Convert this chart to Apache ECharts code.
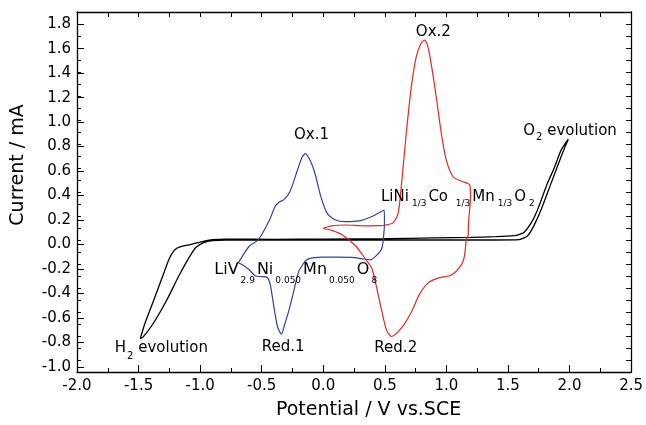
<!DOCTYPE html>
<html>
<head>
<meta charset="utf-8">
<script src="https://cdn.jsdelivr.net/npm/echarts@6/dist/echarts.min.js"></script>
<style>
  html, body { margin: 0; padding: 0; background: #fff; }
  #cv-chart { width: 646px; height: 425px; }
</style>
</head>
<body>
<div id="cv-chart"></div>
<script>
// Cyclic voltammograms: electrolyte window (black), LiV2.9Ni0.050Mn0.050O8 (blue), LiNi1/3Co1/3Mn1/3O2 (red)
var blackPotential = [1.99, 1.93, 1.88, 1.82, 1.74, 1.69, 1.63, 1.59, 1.55, 1.4, 1.2, 0.9, 0.5, 0.0, -0.4, -0.79,
    -0.9, -0.98, -1.09, -1.17, -1.21, -1.25, -1.30, -1.38, -1.45, -1.486,
    -1.464, -1.384, -1.276, -1.168, -1.087, -1.033, -0.966, -0.9, -0.79, -0.4, 0.0, 0.5, 1.0, 1.4, 1.59,
    1.66, 1.71, 1.77, 1.85, 1.94, 1.99];
var blackCurrent = [0.84, 0.745, 0.61, 0.47, 0.25, 0.145, 0.063, 0.045, 0.036, 0.028, 0.022, 0.017, 0.012, 0.008, 0.006, 0.008,
    0.003, -0.013, -0.04, -0.06, -0.087, -0.155, -0.29, -0.51, -0.70, -0.823,
    -0.81, -0.70, -0.51, -0.29, -0.141, -0.06, -0.019, -0.005, 0.0, 0.0, 0.0, 0.0, 0.0, 0.0, 0.003,
    0.036, 0.118, 0.254, 0.472, 0.717, 0.84];

var bluePotential = [-0.69, -0.66, -0.60, -0.53, -0.44, -0.39, -0.36, -0.32, -0.27, -0.21, -0.172, -0.145, -0.118, -0.085,
    -0.06, -0.02, 0.03, 0.10, 0.18, 0.29, 0.39, 0.495,
    0.497, 0.495, 0.475, 0.42, 0.38,
    0.31, 0.23, 0.12, 0.0, -0.09, -0.14, -0.17, -0.20, -0.24, -0.28, -0.32, -0.34, -0.37, -0.40, -0.43,
    -0.455, -0.50, -0.55, -0.60, -0.65, -0.69];
var blueCurrent = [-0.19, -0.14, -0.05, 0.0, 0.159, 0.281, 0.314, 0.336, 0.404, 0.581, 0.69, 0.72, 0.685, 0.61,
    0.527, 0.363, 0.226, 0.167, 0.153, 0.159, 0.194, 0.25,
    0.15, 0.09, -0.073, -0.141, -0.165,
    -0.155, -0.145, -0.142, -0.142, -0.149, -0.168, -0.21, -0.264, -0.428, -0.591, -0.727, -0.785, -0.727, -0.563, -0.373,
    -0.313, -0.305, -0.30, -0.25, -0.21, -0.19];

var redPotential = [0.0, 0.017, 0.07, 0.124, 0.18, 0.34, 0.45, 0.50, 0.569, 0.609, 0.636, 0.676, 0.717, 0.757, 0.795,
    0.822, 0.848, 0.879, 0.919, 0.96, 1.0, 1.054, 1.12, 1.19,
    1.196, 1.18, 1.176, 1.162, 1.148, 1.12, 1.04, 0.93, 0.85, 0.78, 0.72, 0.64, 0.555, 0.515, 0.475, 0.434,
    0.394, 0.34, 0.26, 0.15, 0.07, 0.0];
var redCurrent = [0.096, 0.104, 0.118, 0.123, 0.125, 0.118, 0.12, 0.123, 0.145, 0.226, 0.472, 0.908, 1.29, 1.535, 1.64,
    1.665, 1.62, 1.453, 1.181, 0.881, 0.663, 0.527, 0.491, 0.459,
    0.363, 0.15, 0.036, 0.009, -0.128, -0.209, -0.291, -0.318, -0.359, -0.455, -0.591, -0.727, -0.804, -0.755, -0.591, -0.40,
    -0.236, -0.155, -0.046, 0.045, 0.08, 0.096];

// annotations: rich text and anchor in data units (potential, current)
var labelTexts = ['{m|Ox.1}', '{m|Ox.2}', '{m|Red.1}', '{m|Red.2}',
    '{m|H}{h|2}{m| evolution}', '{m|O}{o|2}{m| evolution}',
    '{f|LiNi}{n|1/3}{f|Co }{n|1/3}{f|Mn}{n|1/3}{f|O}{n|2}',
    '{g|LiV}{v|2.9}{g|Ni}{v|0.050}{g|Mn}{v|0.050}{g|O}{v|8}'];
var labelPotential = [-0.095, 0.894, -0.325, 0.589, -1.693, 1.624, 0.469, -0.885];
var labelCurrent = [0.87, 1.73, -0.89, -0.90, -0.90, 0.91, 0.355, -0.245];
var labelAlign = ['center', 'center', 'center', 'center', 'left', 'left', 'left', 'left'];

var FONT = 'DejaVu Sans';

function pairs(xs, ys) {
    return xs.map(function (x, i) { return [x, ys[i]]; });
}

function tickText(v) {
    if (Math.abs(v) < 1e-9) return '0.0';
    return v.toFixed(1);
}

var chartDom = document.getElementById('cv-chart');
var cvChart = echarts.init(chartDom, null, {renderer: 'canvas'});

var gridTop = 12, gridBottom = 46, plotHeight = 425 - gridTop - gridBottom;
var yMin = -1.1, yMax = 1.9;
var pxPerUnit = plotHeight / (yMax - yMin);

var axisLineStyle = {color: '#000', width: 1.3};

var option = {
    animation: false,
    backgroundColor: '#fff',
    grid: [
        {left: 77, right: 12, top: gridTop, bottom: gridBottom},
        // helper grid whose y range is exactly -1.0 .. 1.8, for the labelled ticks
        {left: 77, right: 12, top: gridTop + (yMax - 1.8) * pxPerUnit, bottom: gridBottom + (-1.0 - yMin) * pxPerUnit}
    ],
    xAxis: [
        {
            gridIndex: 0, type: 'value', position: 'bottom',
            min: -2, max: 2.5, interval: 0.5,
            axisLine: {show: true, onZero: false, lineStyle: axisLineStyle},
            axisTick: {show: true, inside: true, length: 7, lineStyle: {color: '#000', width: 1}},
            minorTick: {show: true, splitNumber: 2, length: 4, lineStyle: {color: '#000', width: 1}},
            axisLabel: {color: '#000', fontFamily: FONT, fontSize: 15, margin: 7, formatter: tickText},
            splitLine: {show: false},
            name: 'Potential / V vs.SCE', nameLocation: 'middle', nameGap: 29,
            nameTextStyle: {color: '#000', fontFamily: FONT, fontSize: 19, padding: [0, 0, 0, 29]}
        },
        {
            gridIndex: 0, type: 'value', position: 'top',
            min: -2, max: 2.5, interval: 0.25,
            axisLine: {show: true, onZero: false, lineStyle: axisLineStyle},
            axisTick: {show: true, inside: true, length: 5, lineStyle: {color: '#000', width: 1}},
            axisLabel: {show: false},
            splitLine: {show: false}
        },
        {
            gridIndex: 1, type: 'value', show: false, min: 0, max: 1
        }
    ],
    yAxis: [
        {
            gridIndex: 0, type: 'value', position: 'left',
            min: yMin, max: yMax, interval: 0.1,
            axisLine: {show: true, onZero: false, lineStyle: axisLineStyle},
            axisTick: {show: true, inside: true, length: 4, lineStyle: {color: '#000', width: 1}},
            axisLabel: {show: false},
            splitLine: {show: false}
        },
        {
            gridIndex: 0, type: 'value', position: 'right',
            min: yMin, max: yMax, interval: 0.1,
            axisLine: {show: true, onZero: false, lineStyle: axisLineStyle},
            axisTick: {show: true, inside: true, length: 5, lineStyle: {color: '#000', width: 1}},
            axisLabel: {show: false},
            splitLine: {show: false}
        },
        {
            gridIndex: 1, type: 'value', position: 'left',
            min: -1.0, max: 1.8, interval: 0.2,
            axisLine: {show: false},
            axisTick: {show: true, inside: true, length: 7, lineStyle: {color: '#000', width: 1}},
            axisLabel: {color: '#000', fontFamily: FONT, fontSize: 15, margin: 6, padding: [3, 0, 0, 0], formatter: tickText},
            splitLine: {show: false}
        }
    ],
    series: [
        {
            name: 'window', type: 'line', xAxisIndex: 0, yAxisIndex: 0,
            data: pairs(blackPotential, blackCurrent),
            showSymbol: false, smooth: 0.25, clip: false,
            lineStyle: {color: '#000', width: 1.3}
        },
        {
            name: 'LiV2.9Ni0.050Mn0.050O8', type: 'line', xAxisIndex: 0, yAxisIndex: 0,
            data: pairs(bluePotential, blueCurrent),
            showSymbol: false, smooth: 0.25, clip: false,
            lineStyle: {color: '#2b44a6', width: 1.2}
        },
        {
            name: 'LiNi1/3Co1/3Mn1/3O2', type: 'line', xAxisIndex: 0, yAxisIndex: 0,
            data: pairs(redPotential, redCurrent),
            showSymbol: false, smooth: 0.25, clip: false,
            lineStyle: {color: '#e8261f', width: 1.2}
        }
    ]
};

cvChart.setOption(option);

// annotations placed through the chart's own scales
var rich = {
    m: {fontFamily: FONT, fontSize: 15, color: '#000', lineHeight: 18},
    h: {fontFamily: FONT, fontSize: 10, color: '#000', lineHeight: 11, padding: [17, 0, 0, 1]},
    o: {fontFamily: FONT, fontSize: 10, color: '#000', lineHeight: 11, padding: [14, 0, 0, 1]},
    f: {fontFamily: FONT, fontSize: 15, color: '#000', lineHeight: 18},
    n: {fontFamily: FONT, fontSize: 9, color: '#000', lineHeight: 11, padding: [12, 2, 0, 3]},
    g: {fontFamily: FONT, fontSize: 16, color: '#000', lineHeight: 18},
    v: {fontFamily: FONT, fontSize: 9, color: '#000', lineHeight: 11, padding: [22, 2, 0, 2]}
};

var graphics = [];
labelTexts.forEach(function (t, i) {
    var p = cvChart.convertToPixel({xAxisIndex: 0, yAxisIndex: 0}, [labelPotential[i], labelCurrent[i]]);
    graphics.push({
        type: 'text', x: p[0], y: p[1], z: 100,
        style: {text: t, rich: rich, align: labelAlign[i], verticalAlign: 'middle'}
    });
});

// y axis name
graphics.push({
    type: 'text', x: 18, y: 165, rotation: Math.PI / 2, z: 100,
    style: {text: 'Current / mA', fontFamily: FONT, fontSize: 19, fill: '#000', align: 'center', verticalAlign: 'middle'}
});

cvChart.setOption({graphic: graphics});
</script>
</body>
</html>
